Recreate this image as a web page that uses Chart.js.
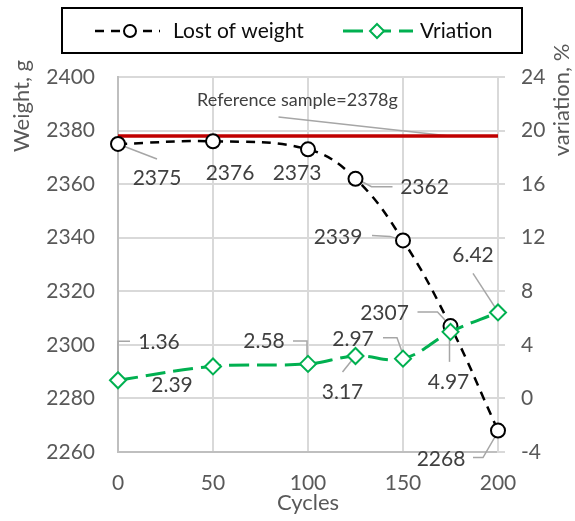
<!DOCTYPE html>
<html>
<head>
<meta charset="utf-8">
<script src="https://cdn.jsdelivr.net/npm/chart.js@4.4.0/dist/chart.umd.min.js"></script>
<style>
  html, body { margin: 0; padding: 0; background: #fff; }
</style>
</head>
<body>
<canvas id="myChart" width="575" height="521"></canvas>
<script>
// data
let cycles = [0, 50, 100, 125, 150, 175, 200];
let lostOfWeight = [2375, 2376, 2373, 2362, 2339, 2307, 2268];
let vriation = [1.36, 2.39, 2.58, 3.17, 2.97, 4.97, 6.42];
let referenceWeight = 2378;
let seriesNames = ["Lost of weight", "Vriation"];

// label placement (pixel offsets from the point), like the moved excel labels
let weightLabelPos = [[39, 34], [17, 32], [-11, 24], [69, 8], [-65, -3], [-66, -13], [-57, 29]];
let weightLeaders = [
  [[0, 0], [39, 15]], null, null,
  [[1, 0], [16, 8], [37, 8]],
  [[-31, -5], [-13, -4], [0, 0]],
  [[-33, -14], [-13, -14], [0, 0]],
  [[-25, 27], [-15, 27], [0, 1]]
];
let varLabelPos = [[41, -38], [-41, 19], [-44, -23], [-13, 36], [-50, -19], [-2, 50], [-25, -57]];
let varLeaders = [
  [[0, -2], [0, -39], [12, -39]], null,
  [[-15, -23], [-1, -23], [-1, -6]],
  [[-13, 16], [-1, 1]],
  [[-20, -21], [-6, -21], [-1, -7]],
  [[-1, 30], [-1, 1]],
  [[-25, -39], [-1, -2]]
];

const FONT = "Lato";
const GRID = "#D9D9D9";
const TXT = "#595959";

function toPoints(ys) {
  return cycles.map((c, i) => ({ x: c, y: ys[i] }));
}

function drawLeaders(ctx, meta, leaders) {
  ctx.strokeStyle = "#A6A6A6";
  ctx.lineWidth = 1.5;
  meta.data.forEach((pt, i) => {
    let l = leaders[i];
    if (!l) return;
    ctx.beginPath();
    ctx.moveTo(pt.x + l[0][0], pt.y + l[0][1]);
    for (let k = 1; k < l.length; k++) ctx.lineTo(pt.x + l[k][0], pt.y + l[k][1]);
    ctx.stroke();
  });
}

function drawLabels(ctx, meta, values, pos) {
  ctx.font = "21px " + FONT;
  ctx.fillStyle = "#404040";
  ctx.textAlign = "center";
  ctx.textBaseline = "middle";
  meta.data.forEach((pt, i) => {
    ctx.fillText(String(values[i]), pt.x + pos[i][0], pt.y + pos[i][1]);
  });
}

const labelPlugin = {
  id: "labelPlugin",
  beforeDatasetsDraw(chart) {
    let ctx = chart.ctx;
    ctx.save();
    drawLeaders(ctx, chart.getDatasetMeta(0), weightLeaders);
    drawLeaders(ctx, chart.getDatasetMeta(1), varLeaders);
    // reference note leader
    let ex = chart.scales.x.getPixelForValue(175);
    let ey = chart.scales.y.getPixelForValue(referenceWeight);
    ctx.beginPath();
    ctx.moveTo(ex - 172, ey - 19);
    ctx.lineTo(ex - 1, ey);
    ctx.stroke();
    ctx.restore();
  },
  afterDatasetsDraw(chart) {
    let ctx = chart.ctx;
    ctx.save();
    drawLabels(ctx, chart.getDatasetMeta(0), lostOfWeight, weightLabelPos);
    drawLabels(ctx, chart.getDatasetMeta(1), vriation, varLabelPos);
    let ex = chart.scales.x.getPixelForValue(175);
    let ey = chart.scales.y.getPixelForValue(referenceWeight);
    ctx.font = "18px " + FONT;
    ctx.fillText("Reference sample=" + referenceWeight + "g", ex - 153, ey - 36);
    ctx.restore();
  },
  afterDraw(chart) {
    let ctx = chart.ctx;
    let a = chart.chartArea;
    ctx.save();
    // axis titles
    ctx.font = "22px " + FONT;
    ctx.fillStyle = TXT;
    ctx.textAlign = "center";
    ctx.textBaseline = "middle";
    ctx.fillText("Cycles", (a.left + a.right) / 2, 503);
    ctx.save();
    ctx.translate(22, 106);
    ctx.rotate(-Math.PI / 2);
    ctx.fillText("Weight, g", 0, 0);
    ctx.restore();
    ctx.save();
    ctx.translate(562, 100);
    ctx.rotate(-Math.PI / 2);
    ctx.fillText("variation, %", 0, 0);
    ctx.restore();

    // legend box
    ctx.strokeStyle = "#000";
    ctx.lineWidth = 2;
    ctx.strokeRect(62, 8, 460, 45);
    let ly = 31;
    let items = [
      { x0: 95, x1: 160, mx: 130, tx: 173, ds: chart.data.datasets[0] },
      { x0: 343, x1: 413, mx: 377, tx: 420, ds: chart.data.datasets[1] }
    ];
    items.forEach((it) => {
      ctx.strokeStyle = it.ds.borderColor;
      ctx.lineWidth = it.ds.borderWidth;
      ctx.setLineDash(it.ds.borderDash);
      ctx.beginPath();
      ctx.moveTo(it.x0, ly);
      ctx.lineTo(it.x1, ly);
      ctx.stroke();
      ctx.setLineDash([]);
      ctx.fillStyle = "#fff";
      ctx.strokeStyle = it.ds.pointBorderColor;
      ctx.lineWidth = 2;
      ctx.beginPath();
      if (it.ds.pointStyle === "circle") {
        ctx.arc(it.mx, ly, 6, 0, Math.PI * 2);
      } else {
        ctx.moveTo(it.mx, ly - 7);
        ctx.lineTo(it.mx + 7, ly);
        ctx.lineTo(it.mx, ly + 7);
        ctx.lineTo(it.mx - 7, ly);
        ctx.closePath();
      }
      ctx.fill();
      ctx.stroke();
      ctx.fillStyle = "#0D0D0D";
      ctx.font = "21px " + FONT;
      ctx.textAlign = "left";
      ctx.fillText(it.ds.label, it.tx, ly);
    });
    ctx.restore();
  }
};

var ctx = document.getElementById("myChart").getContext("2d");
var myChart = new Chart(ctx, {
  type: "line",
  data: {
    datasets: [
      {
        label: seriesNames[0],
        data: toPoints(lostOfWeight),
        yAxisID: "y",
        borderColor: "#000",
        borderWidth: 2.5,
        borderDash: [9, 7],
        tension: 0.4,
        clip: false,
        pointStyle: "circle",
        pointRadius: 7,
        pointBackgroundColor: "#fff",
        pointBorderColor: "#000",
        pointBorderWidth: 2,
        order: 1
      },
      {
        label: seriesNames[1],
        data: toPoints(vriation),
        yAxisID: "y1",
        borderColor: "#00B050",
        borderWidth: 3,
        borderDash: [20, 8],
        tension: 0.4,
        clip: false,
        pointStyle: "rectRot",
        pointRadius: 8,
        pointBackgroundColor: "#fff",
        pointBorderColor: "#00B050",
        pointBorderWidth: 2,
        order: 0
      },
      {
        label: "Reference",
        data: [{ x: cycles[0], y: referenceWeight }, { x: cycles[cycles.length - 1], y: referenceWeight }],
        yAxisID: "y",
        borderColor: "#C00000",
        borderWidth: 3.5,
        pointRadius: 0,
        order: 3
      }
    ]
  },
  options: {
    responsive: false,
    animation: false,
    devicePixelRatio: 1,
    layout: { padding: { top: 77, left: 0, right: 0, bottom: 0 } },
    plugins: {
      legend: { display: false },
      tooltip: { enabled: false }
    },
    scales: {
      x: {
        type: "linear",
        min: 0,
        max: 200,
        afterFit: (s) => { s.height = 69; },
        ticks: { stepSize: 50, padding: 19, color: TXT, font: { family: FONT, size: 21 } },
        grid: { color: GRID, lineWidth: 2, drawTicks: false },
        border: { color: "#BFBFBF", width: 2 }
      },
      y: {
        position: "left",
        min: 2260,
        max: 2400,
        afterFit: (s) => { s.width = 118; },
        ticks: { stepSize: 20, padding: 23, color: TXT, font: { family: FONT, size: 21 }, callback: (v) => String(v) },
        grid: { color: GRID, lineWidth: 2, drawTicks: false },
        border: { color: "#BFBFBF", width: 2 }
      },
      y1: {
        position: "right",
        min: -4,
        max: 24,
        afterFit: (s) => { s.width = 77; },
        ticks: { stepSize: 4, padding: 16, color: TXT, font: { family: FONT, size: 21 } },
        grid: { drawOnChartArea: false, color: GRID, lineWidth: 2, tickLength: 7 },
        border: { color: GRID, width: 2 }
      }
    }
  },
  plugins: [labelPlugin]
});
</script>
</body>
</html>
